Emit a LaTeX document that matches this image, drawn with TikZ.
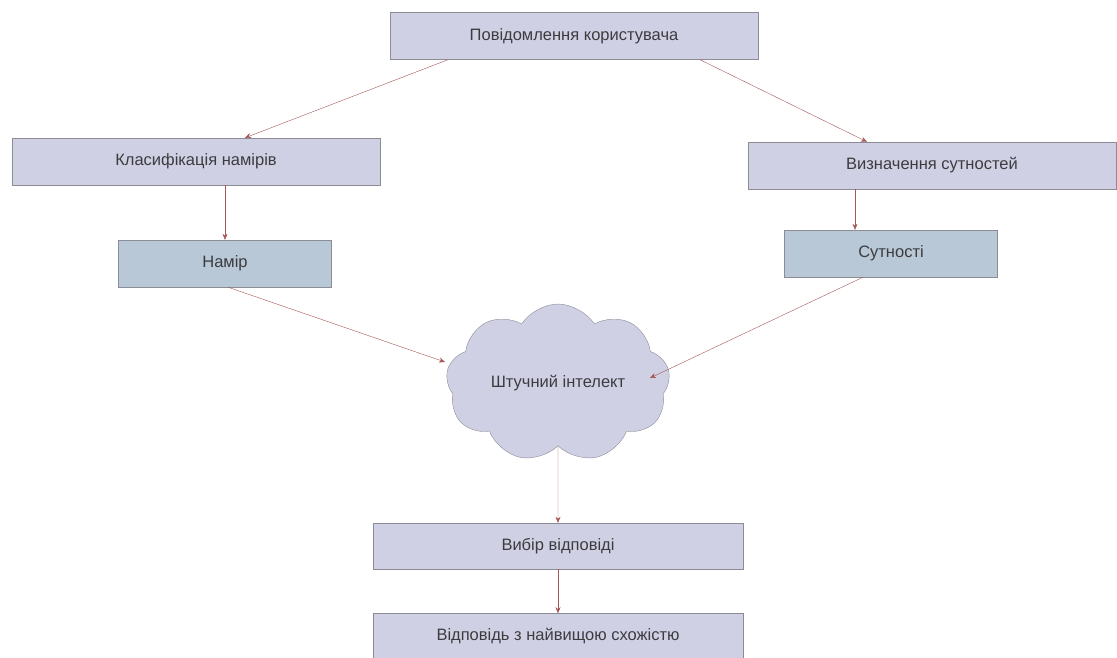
\documentclass[tikz,border=0pt]{standalone}
\usepackage{fontspec}
\setmainfont{Liberation Sans}
\usepackage{xcolor}
\usetikzlibrary{shapes.symbols, arrows.meta, positioning}

\definecolor{boxfill}{RGB}{208,208,228}
\definecolor{resfill}{RGB}{184,200,214}
\definecolor{boxline}{RGB}{140,140,150}
\definecolor{arrowred}{RGB}{165,85,85}
\definecolor{textgray}{RGB}{60,60,64}

\begin{document}
\begin{tikzpicture}[
    x=1pt, y=-1pt,
    box/.style={rectangle, draw=boxline, fill=boxfill, minimum height=47pt, inner sep=0pt, font=\fontsize{16.5}{19}\selectfont, text=textgray},
    wide/.style={box, minimum width=368pt},
    result/.style={box, fill=resfill, minimum width=213pt},
    brain/.style={cloud, draw=boxline, fill=boxfill, cloud puffs=9, cloud puff arc=115, aspect=1.46, minimum width=224pt, minimum height=153pt, inner sep=0pt, font=\fontsize{16.5}{19}\selectfont, text=textgray},
    arrow/.style={-{Stealth[length=6pt, width=5pt]}, draw=arrowred, thin},
]
\useasboundingbox (0,0) rectangle (1117,657);

% Input
\node[wide] (message) at (574,36) {Повідомлення користувача};

% Two branches
\node[wide] (intents) at (196,161.5) {Класифікація намірів};
\node[wide] (entities) at (932,165.5) {Визначення сутностей};
\node[result] (intent) at (225,263.5) {Намір};
\node[result] (entity) at (891,253.5) {Сутності};

% Model
\node[brain] (ai) at (558,383) {Штучний інтелект};

% Output
\node[wide, minimum width=370pt, minimum height=46pt] (choice) at (558,546) {Вибір відповіді};
\node[wide, minimum width=370pt, minimum height=46pt, below=44pt of choice] (best) {Відповідь з найвищою схожістю};

% Arrows
\draw[arrow] ([xshift=-126pt]message.south) -- ([xshift=49pt]intents.north);
\draw[arrow] ([xshift=126pt]message.south) -- ([xshift=-65pt]entities.north);
\draw[arrow] ([xshift=29pt]intents.south) -- (intent.north);
\draw[arrow] ([xshift=-77pt]entities.south) -- ([xshift=-36pt]entity.north);
\draw[arrow] ([xshift=3pt]intent.south) -- ([xshift=-113pt, yshift=21pt]ai.center);
\draw[arrow] ([xshift=-28pt]entity.south) -- ([xshift=92pt, yshift=5pt]ai.center);
\draw[arrow] (ai.south) -- (choice.north);
\draw[arrow] (choice) -- (best);

\end{tikzpicture}
\end{document}
